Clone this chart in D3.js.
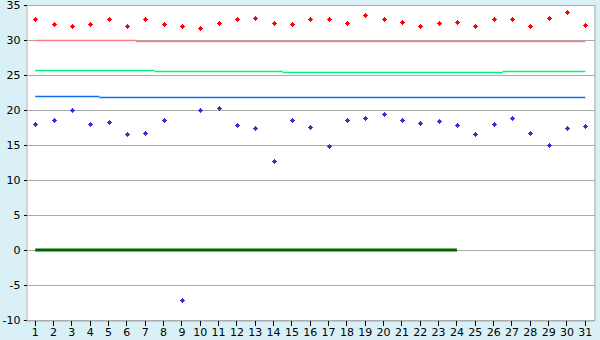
<!DOCTYPE html>
<html>
<head>
<meta charset="utf-8">
<script src="https://cdn.jsdelivr.net/npm/d3@7"></script>
<style>
  body { margin: 0; background: #daf0f7; }
  svg { display: block; font-family: "DejaVu Sans", Verdana, sans-serif; }
</style>
</head>
<body>
<div id="chart"></div>
<script>
// days of the month
var days = d3.range(1, 32);

// daily maximum (red) and minimum (blue)
var highs = [33.0, 32.3, 32.0, 32.3, 33.0, 32.0, 33.0, 32.3, 32.0, 31.7,
             32.4, 33.0, 33.1, 32.4, 32.3, 33.0, 33.0, 32.4, 33.6, 33.0,
             32.6, 32.0, 32.4, 32.6, 32.0, 33.0, 33.0, 32.0, 33.1, 34.0, 32.1];
var lows  = [18.0, 18.6, 20.0, 18.0, 18.3, 16.6, 16.7, 18.6, -7.2, 20.0,
             20.3, 17.9, 17.4, 12.7, 18.6, 17.6, 14.9, 18.6, 18.9, 19.4,
             18.6, 18.1, 18.4, 17.9, 16.6, 18.0, 18.9, 16.7, 15.0, 17.4, 17.7];

// step lines: where each level starts (day) and its value
var highAvgStarts = [1, 6.5],              highAvgValues = [30.0, 29.86];
var meanAvgStarts = [1, 7.5, 14.5, 26.5],  meanAvgValues = [25.71, 25.57, 25.43, 25.57];
var lowAvgStarts  = [1, 4.5],              lowAvgValues  = [22.0, 21.86];
var zeroStart = 1, zeroEnd = 24, zeroValue = 0;

var yTicks = d3.range(-10, 36, 5);

var width = 600, height = 340;
var plotL = 26, plotR = 594.5, plotT = 5, plotB = 320;

var svg = d3.select("#chart").append("svg")
  .attr("width", width)
  .attr("height", height);

var x = d3.scaleBand().domain(days).range([plotL, plotR]);
var bw = x.bandwidth();
var dayX = d3.scaleLinear().domain([1, 31]).range([x(1) + bw / 2, x(31) + bw / 2]);
var y = d3.scaleLinear().domain([-10, 35]).range([plotB, plotT]);

// plot background
svg.append("rect")
  .attr("x", plotL).attr("y", plotT)
  .attr("width", plotR - plotL).attr("height", plotB - plotT)
  .attr("fill", "#fff");

// gridlines
svg.append("g")
  .attr("transform", "translate(" + plotL + ",0)")
  .call(d3.axisLeft(y).tickValues(yTicks).tickSize(-(plotR - plotL)).tickFormat(""))
  .call(function (g) {
    g.select(".domain").remove();
    g.selectAll("line").attr("stroke", "#aaa").attr("shape-rendering", "crispEdges");
  });

// right border
svg.append("line")
  .attr("x1", plotR + 0.5).attr("x2", plotR + 0.5)
  .attr("y1", plotT).attr("y2", plotB)
  .attr("stroke", "#aaa");

// y axis (plain hyphen for negatives, like the original)
svg.append("g")
  .attr("transform", "translate(" + (plotL + 0.5) + ",0)")
  .call(d3.axisLeft(y).tickValues(yTicks).tickSize(3).tickPadding(3)
    .tickFormat(function (d) { return String(d); }))
  .call(function (g) {
    g.select(".domain").attr("stroke", "#aaa");
    g.selectAll(".tick line").attr("stroke", "#000").attr("shape-rendering", "crispEdges");
    g.selectAll("text").attr("font-size", 11).attr("fill", "#000")
      .attr("font-family", "DejaVu Sans, Verdana, sans-serif");
  });

// x axis
svg.append("g")
  .attr("transform", "translate(0," + (plotB + 0.5) + ")")
  .call(d3.axisBottom(x).tickSize(5).tickPadding(3).tickSizeOuter(0))
  .call(function (g) {
    g.select(".domain").attr("stroke", "#aaa");
    g.selectAll(".tick line").attr("stroke", "#000").attr("shape-rendering", "crispEdges");
    g.selectAll("text").attr("font-size", 11).attr("fill", "#000")
      .attr("font-family", "DejaVu Sans, Verdana, sans-serif");
  });

// step lines
function steps(starts, values) {
  return starts.map(function (s, i) {
    return { x1: s, x2: i < starts.length - 1 ? starts[i + 1] : 31, v: values[i] };
  });
}
function drawSteps(segs, color, w) {
  svg.append("g").selectAll("line")
    .data(segs)
    .enter().append("line")
    .attr("x1", function (d) { return dayX(d.x1); })
    .attr("x2", function (d) { return dayX(d.x2); })
    .attr("y1", function (d) { return Math.round(y(d.v)) + 0.5; })
    .attr("y2", function (d) { return Math.round(y(d.v)) + 0.5; })
    .attr("stroke", color)
    .attr("stroke-width", w);
}
drawSteps(steps(highAvgStarts, highAvgValues), "#ff8080", 1.5);
drawSteps(steps(meanAvgStarts, meanAvgValues), "#00f57a", 1.5);
drawSteps(steps(lowAvgStarts, lowAvgValues), "#0a6ff0", 1.5);

svg.append("line")
  .attr("x1", dayX(zeroStart)).attr("x2", dayX(zeroEnd))
  .attr("y1", y(zeroValue)).attr("y2", y(zeroValue))
  .attr("stroke", "#006400")
  .attr("stroke-width", 3);

// markers: small pixel diamonds
var marker = "M-0.5,-2.5h1v1h1v1h1v1h-1v1h-1v1h-1v-1h-1v-1h-1v-1h1v-1h1z";
function drawPoints(vals, color) {
  svg.append("g").selectAll("path")
    .data(vals)
    .enter().append("path")
    .attr("d", marker)
    .attr("shape-rendering", "crispEdges")
    .attr("transform", function (d, i) {
      return "translate(" + (Math.round(x(days[i]) + bw / 2) + 0.5) + "," + (Math.round(y(d)) + 0.5) + ")";
    })
    .attr("fill", color);
}
drawPoints(highs, "#ff0000");
drawPoints(lows, "#3333cc");
</script>
</body>
</html>
